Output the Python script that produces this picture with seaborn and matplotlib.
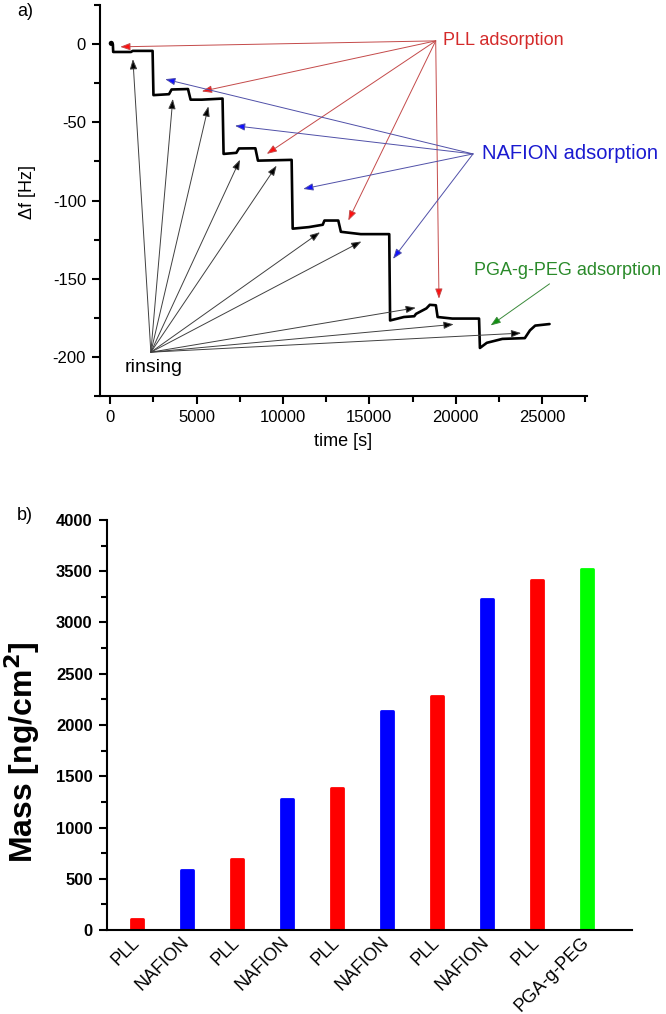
import matplotlib
matplotlib.use("Agg")
import matplotlib.pyplot as plt
from matplotlib.ticker import MultipleLocator
import seaborn as sns
import pandas as pd

# ---------------- data: panel a (QCM frequency trace) ----------------
time_s = [60, 150, 170, 1200, 1300, 2450, 2500, 3400, 3550, 4500, 4650, 5300, 6500,
          6560, 7300, 7450, 8400, 8550, 10500, 10560, 11500, 12300, 12400, 13200,
          13350, 14500, 16150, 16200, 17000, 17600, 17700, 18300, 18500, 18850,
          18950, 19800, 21350, 21400, 21800, 22700, 24000, 24300, 24600, 25430]
delta_f = [0.5, 0, -5, -5, -4.3, -4.3, -32.6, -32, -29, -28.7, -35.5, -35.5, -34.8,
           -70.2, -69.5, -66.7, -66.6, -74.5, -74, -118, -117, -115.5, -112.8, -112.8,
           -120, -121.5, -121.5, -176.7, -174.5, -174, -172.5, -169, -166.7, -167,
           -174.5, -175.5, -175.5, -194.3, -191, -188.5, -188, -183, -180, -179]

# annotation arrows (source -> targets), data coordinates
rinse_src = (2350, -197)
rinse_t = [1310, 3620, 5680, 7510, 9630, 12140, 14540, 17690, 19880, 23790]
rinse_f = [-9.6, -35, -39.8, -73.9, -77.7, -120.3, -126.2, -168.6, -179.2, -184.8]
pll_src = (18840, 2.1)
pll_t = [578, 5300, 9060, 13780, 19030]
pll_f = [-1.7, -30.2, -70.2, -112.8, -162.8]
naf_src = (21000, -70.2)
naf_t = [3180, 7220, 11170, 16370]
naf_f = [-22.4, -52.2, -92.6, -137.3]
pga_src = (25430, -153.3)
pga_t = [22020]
pga_f = [-179.9]

# ---------------- data: panel b (adsorbed mass) ----------------
layers = ["PLL", "NAFION", "PLL", "NAFION", "PLL", "NAFION", "PLL", "NAFION", "PLL", "PGA-g-PEG"]
mass = [110, 585, 690, 1278, 1388, 2138, 2282, 3228, 3412, 3518]
palette = {"PLL": "#ff0000", "NAFION": "#0000ff", "PGA-g-PEG": "#00ff00"}

sns.set_style("ticks")
plt.rcParams["font.family"] = ["Liberation Sans", "DejaVu Sans"]
plt.rcParams["axes.linewidth"] = 1.5
plt.rcParams["axes.unicode_minus"] = False
plt.rcParams["axes.edgecolor"] = "black"
plt.rcParams["xtick.color"] = "black"
plt.rcParams["ytick.color"] = "black"
plt.rcParams["text.color"] = "black"

fig = plt.figure(figsize=(6.66, 10.14), dpi=100)

# ================= panel a =================
ax1 = fig.add_axes([0.150, 0.6095, 0.7314, 0.3855])
dfa = pd.DataFrame({"t": time_s, "f": delta_f})
sns.lineplot(data=dfa, x="t", y="f", sort=False, estimator=None, color="black",
             lw=1.9, ax=ax1)
sns.scatterplot(x=time_s[:1], y=delta_f[:1], color="black", s=14, ax=ax1,
                edgecolor="none", zorder=5)

def arrows(src, ts, fs, line_c, head_c):
    for t, f in zip(ts, fs):
        ax1.annotate("", xy=(t, f), xytext=src,
                     arrowprops=dict(arrowstyle="-|>,head_length=0.6,head_width=0.22",
                                     mutation_scale=10, lw=0.7, ec=line_c, fc=head_c,
                                     shrinkA=0, shrinkB=0))

arrows(rinse_src, rinse_t, rinse_f, "#404040", "black")
arrows(pll_src, pll_t, pll_f, "#c44a4a", "#ff1010")
arrows(naf_src, naf_t, naf_f, "#5050a8", "#1010ff")
arrows(pga_src, pga_t, pga_f, "#3a8a3a", "#109010")

ax1.text(19250, 2.5, "PLL adsorption", color="#d42a2a", fontsize=13, ha="left", va="center")
ax1.text(21540, -70, "NAFION adsorption", color="#1a1ad0", fontsize=14.5, ha="left", va="center")
ax1.text(21040, -144.8, "PGA-g-PEG adsorption", color="#2a8a2a", fontsize=13, ha="left", va="center")
ax1.text(2500, -207, "rinsing", color="black", fontsize=14, ha="center", va="center")

ax1.set_xlim(-600, 27600)
ax1.set_ylim(-225, 25)
ax1.xaxis.set_major_locator(MultipleLocator(5000))
ax1.xaxis.set_minor_locator(MultipleLocator(2500))
ax1.yaxis.set_major_locator(MultipleLocator(50))
ax1.yaxis.set_minor_locator(MultipleLocator(25))
ax1.tick_params(which="major", length=6, width=1.5, labelsize=12, pad=4)
ax1.tick_params(which="minor", length=4, width=1.5)
ax1.set_xlabel("")
ax1.set_ylabel("")
sns.despine(ax=ax1)
fig.text(27 / 666, 1 - 192 / 1014, "Δf [Hz]", rotation=90, ha="center", va="center", fontsize=13)
fig.text(343 / 666, 1 - 441 / 1014, "time [s]", ha="center", va="center", fontsize=13)
fig.text(17 / 666, 1 - 12 / 1014, "a)", ha="left", va="center", fontsize=13)

# ================= panel b =================
ax2 = fig.add_axes([0.160, 0.0828, 0.7883, 0.4044])
dfb = pd.DataFrame({"step": [f"{i}" for i in range(len(layers))],
                    "layer": layers, "mass": mass})
sns.barplot(data=dfb, x="step", y="mass", hue="layer", palette=palette, dodge=False,
            width=0.24, saturation=1, legend=False, ax=ax2)
# slightly rounded bar caps, as in the original
for p in ax2.patches:
    p.set_edgecolor(p.get_facecolor())
    p.set_linewidth(2.0)
    p.set_joinstyle("round")
ax2.set_xlim(-0.6, 9.9)
ax2.set_ylim(0, 4000)
ax2.yaxis.set_major_locator(MultipleLocator(500))
ax2.yaxis.set_minor_locator(MultipleLocator(250))
ax2.tick_params(axis="y", which="major", length=6, width=1.5, labelsize=12, pad=4)
ax2.tick_params(axis="y", which="minor", length=4, width=1.5)
ax2.tick_params(axis="x", length=0, pad=7)
for lab in ax2.get_yticklabels():
    lab.set_fontweight("bold")
ax2.set_xticks(range(len(layers)))
ax2.set_xticklabels(layers, rotation=45, ha="right", va="center",
                    rotation_mode="anchor", fontsize=13)
ax2.set_xlabel("")
ax2.set_ylabel("")
sns.despine(ax=ax2)
fig.text(22 / 666, 1 - 752 / 1014, "Mass [ng/cm$^\\mathbf{2}$]", rotation=90, ha="center",
         va="center", fontsize=23, fontweight="bold")
fig.text(17 / 666, 1 - 515 / 1014, "b)", ha="left", va="center", fontsize=13)

fig.savefig("out.png", dpi=100)
